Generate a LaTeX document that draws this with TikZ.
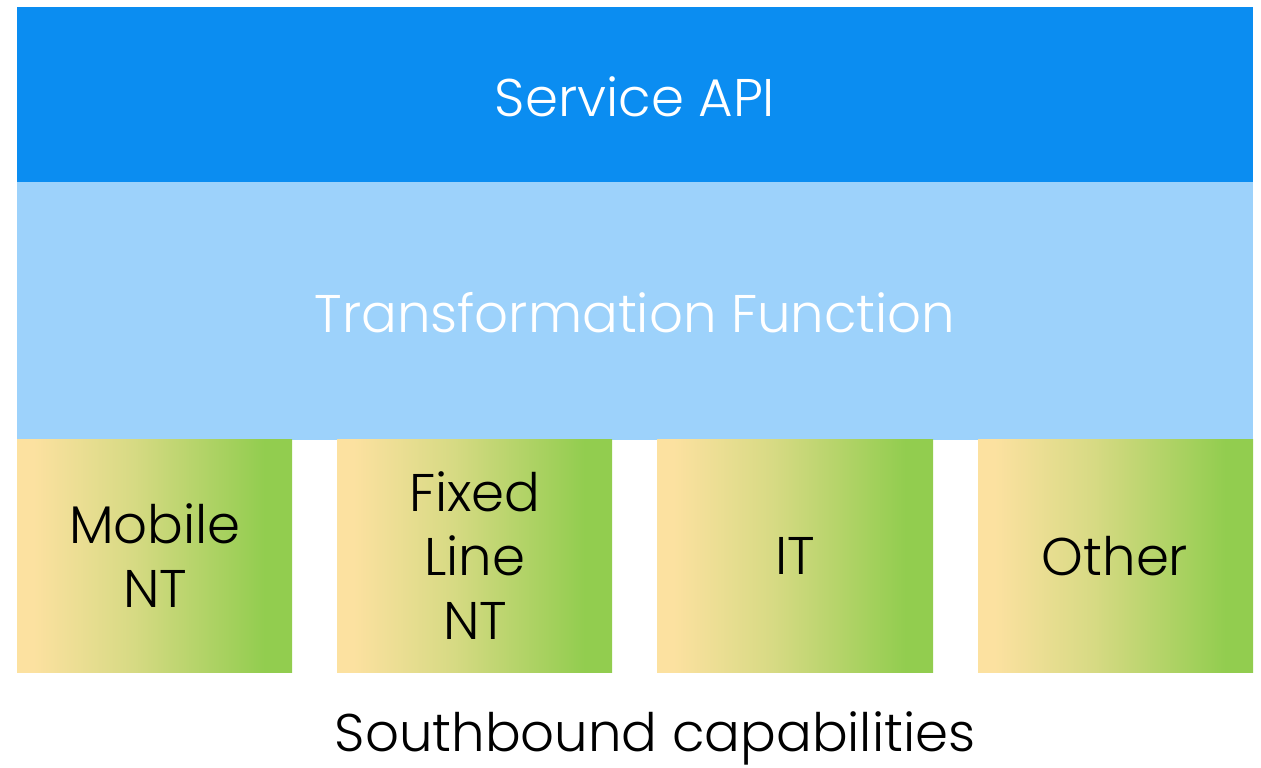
\documentclass[tikz,border=0pt]{standalone}
\usepackage{fontspec}
\setmainfont{Poppins}[UprightFont=* Light]
\definecolor{topblue}{HTML}{0B8DF1}
\definecolor{lightblue}{HTML}{9DD2FB}
\definecolor{ylw}{HTML}{FCE1A0}
\definecolor{grn}{HTML}{92CD4F}
\pgfdeclarehorizontalshading{boxgrad}{100bp}{color(0bp)=(ylw); color(28bp)=(ylw); color(46bp)=(ylw!65!grn); color(70bp)=(grn); color(100bp)=(grn)}
\tikzset{
  bigtext/.style={font=\fontsize{53}{64}\selectfont, align=center, inner sep=0pt},
}
\begin{document}
\begin{tikzpicture}[x=1pt,y=-1pt]
\useasboundingbox (0,0) rectangle (1261,768);
\fill[topblue] (17,7) rectangle (1253,182);
\fill[lightblue] (17,182) rectangle (1253,440);
\shade[shading=boxgrad] (17,439) rectangle (292,672);
\shade[shading=boxgrad] (337,439) rectangle (612,672);
\shade[shading=boxgrad] (657,439) rectangle (933,672);
\shade[shading=boxgrad] (978,439) rectangle (1253,672);
\node[bigtext, text=white] (api) at (635,97) {Service API};
\node[bigtext, text=white] (tf) at (635,313) {Transformation Function};
\node[bigtext] (mob) at (155,556) {Mobile\\NT};
\node[bigtext] (fix) at (475,556) {Fixed\\Line\\NT};
\node[bigtext] (it) at (795,556) {IT};
\node[bigtext] (oth) at (1115,556) {Other};
\node[bigtext] (sb) at (655,738) {Southbound capabilities};
\end{tikzpicture}
\end{document}
